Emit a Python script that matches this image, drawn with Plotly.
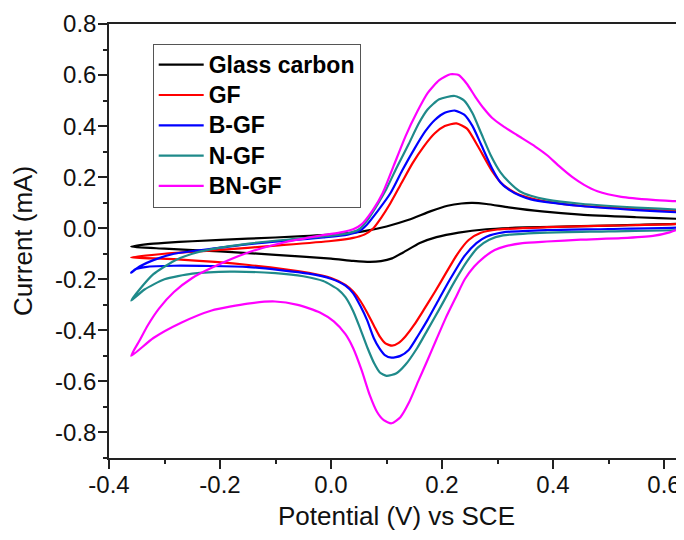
import plotly.graph_objects as go

# ---- data ----
gc_x = [-0.36, -0.33, -0.3, -0.25, -0.15, -0.05, 0.02, 0.06, 0.1, 0.14, 0.18, 0.21, 0.235, 0.255, 0.28, 0.32, 0.38, 0.45, 0.55, 0.636, 0.66,
        0.66, 0.636, 0.55, 0.45, 0.35, 0.28, 0.23, 0.19, 0.16, 0.13, 0.11, 0.09, 0.07, 0.04, 0.0, -0.1, -0.2, -0.3, -0.36]
gc_y = [-0.072, -0.062, -0.057, -0.051, -0.041, -0.031, -0.021, -0.011, 0.007, 0.033, 0.067, 0.088, 0.097, 0.099, 0.095, 0.082, 0.066, 0.053, 0.043, 0.036, 0.034,
        0.022, 0.018, 0.013, 0.008, 0.003, -0.004, -0.017, -0.035, -0.058, -0.095, -0.118, -0.129, -0.132, -0.128, -0.119, -0.104, -0.091, -0.08, -0.072]

gf_x = [-0.36, -0.3, -0.2, -0.1, 0.0, 0.04, 0.06, 0.075, 0.09, 0.107, 0.127, 0.147, 0.167, 0.187, 0.205, 0.226, 0.245, 0.265, 0.29, 0.31, 0.335, 0.36, 0.389, 0.45, 0.55, 0.636, 0.66,
        0.66, 0.636, 0.5, 0.389, 0.3, 0.27, 0.248, 0.228, 0.207, 0.187, 0.167, 0.15, 0.134, 0.122, 0.11, 0.098, 0.088, 0.078, 0.065, 0.053, 0.04, 0.026, 0.0, -0.04, -0.148, -0.283, -0.36]
gf_y = [-0.114, -0.1, -0.085, -0.068, -0.05, -0.038, -0.025, -0.003, 0.04, 0.098, 0.177, 0.255, 0.32, 0.372, 0.4, 0.411, 0.39, 0.32, 0.225, 0.17, 0.135, 0.117, 0.104, 0.088, 0.075, 0.066, 0.064,
        0.022, 0.017, 0.01, 0.004, -0.005, -0.018, -0.046, -0.1, -0.176, -0.25, -0.32, -0.378, -0.424, -0.449, -0.46, -0.451, -0.425, -0.385, -0.33, -0.285, -0.248, -0.222, -0.195, -0.175, -0.144, -0.121, -0.114]

bgf_x = [-0.36, -0.345, -0.32, -0.283, -0.2, -0.148, -0.07, -0.014, 0.03, 0.05, 0.065, 0.085, 0.107, 0.128, 0.15, 0.17, 0.187, 0.205, 0.223, 0.24, 0.255, 0.27, 0.29, 0.305, 0.321, 0.34, 0.36, 0.45, 0.55, 0.636, 0.66,
         0.66, 0.636, 0.5, 0.389, 0.31, 0.28, 0.262, 0.24, 0.214, 0.194, 0.174, 0.157, 0.14, 0.125, 0.109, 0.097, 0.087, 0.077, 0.065, 0.053, 0.04, 0.026, 0.0, -0.04, -0.148, -0.283, -0.335, -0.352, -0.36]
bgf_y = [-0.174, -0.15, -0.125, -0.1, -0.076, -0.062, -0.047, -0.036, -0.025, -0.012, 0.015, 0.07, 0.137, 0.225, 0.31, 0.38, 0.424, 0.452, 0.461, 0.445, 0.4, 0.33, 0.235, 0.18, 0.15, 0.128, 0.113, 0.087, 0.071, 0.061, 0.059,
         0.012, 0.004, -0.003, -0.007, -0.016, -0.033, -0.058, -0.11, -0.202, -0.28, -0.359, -0.42, -0.477, -0.5, -0.507, -0.497, -0.47, -0.43, -0.36, -0.305, -0.255, -0.225, -0.198, -0.178, -0.152, -0.147, -0.152, -0.16, -0.174]

ngf_x = [-0.36, -0.345, -0.32, -0.283, -0.25, -0.215, -0.148, -0.07, -0.014, 0.03, 0.05, 0.065, 0.08, 0.1, 0.12, 0.14, 0.158, 0.174, 0.195, 0.223, 0.24, 0.255, 0.27, 0.288, 0.305, 0.321, 0.34, 0.36, 0.389, 0.45, 0.55, 0.636, 0.66,
         0.66, 0.636, 0.5, 0.389, 0.31, 0.285, 0.265, 0.245, 0.221, 0.197, 0.174, 0.155, 0.134, 0.118, 0.1, 0.088, 0.078, 0.066, 0.053, 0.04, 0.026, 0.013, -0.014, -0.05, -0.1, -0.182, -0.25, -0.3, -0.336, -0.36]
ngf_y = [-0.283, -0.24, -0.18, -0.128, -0.1, -0.082, -0.06, -0.043, -0.032, -0.02, -0.005, 0.03, 0.08, 0.155, 0.245, 0.33, 0.41, 0.465, 0.505, 0.518, 0.5, 0.45, 0.375, 0.285, 0.22, 0.18, 0.145, 0.127, 0.112, 0.096, 0.081, 0.072, 0.07,
         0.008, -0.005, -0.012, -0.017, -0.028, -0.045, -0.075, -0.13, -0.215, -0.31, -0.398, -0.47, -0.535, -0.568, -0.578, -0.565, -0.53, -0.47, -0.395, -0.325, -0.27, -0.24, -0.207, -0.188, -0.176, -0.17, -0.178, -0.2, -0.24, -0.283]

bngf_x = [-0.36, -0.345, -0.33, -0.31, -0.283, -0.25, -0.215, -0.148, -0.081, -0.014, 0.02, 0.04, 0.055, 0.075, 0.093, 0.113, 0.134, 0.155, 0.174, 0.195, 0.215, 0.23, 0.245, 0.26, 0.275, 0.29, 0.31, 0.335, 0.368, 0.39, 0.41, 0.435, 0.456, 0.48, 0.523, 0.58, 0.636, 0.66,
          0.66, 0.645, 0.63, 0.61, 0.58, 0.523, 0.45, 0.389, 0.345, 0.315, 0.295, 0.275, 0.258, 0.241, 0.225, 0.207, 0.19, 0.174, 0.157, 0.14, 0.125, 0.109, 0.095, 0.083, 0.07, 0.055, 0.04, 0.026, 0.005, -0.02, -0.06, -0.101, -0.15, -0.215, -0.27, -0.32, -0.36]
bngf_y = [-0.5, -0.44, -0.38, -0.315, -0.25, -0.195, -0.155, -0.094, -0.054, -0.027, -0.015, -0.004, 0.015, 0.07, 0.137, 0.245, 0.359, 0.455, 0.529, 0.58, 0.603, 0.6, 0.565, 0.515, 0.47, 0.433, 0.4, 0.365, 0.32, 0.285, 0.245, 0.2, 0.17, 0.145, 0.123, 0.111, 0.104, 0.1,
          0.04, 0.018, 0.0, -0.016, -0.03, -0.039, -0.045, -0.052, -0.058, -0.07, -0.085, -0.115, -0.15, -0.2, -0.27, -0.35, -0.435, -0.516, -0.6, -0.685, -0.74, -0.764, -0.752, -0.72, -0.655, -0.555, -0.47, -0.415, -0.365, -0.33, -0.3, -0.287, -0.295, -0.322, -0.37, -0.43, -0.5]

series_names = ["Glass carbon", "GF", "B-GF", "N-GF", "BN-GF"]
series_x = [gc_x, gf_x, bgf_x, ngf_x, bngf_x]
series_y = [gc_y, gf_y, bgf_y, ngf_y, bngf_y]
series_colors = ["#000000", "#FF0000", "#0000FF", "#1F8A8A", "#FF00FF"]

x_tickvals = [-0.4, -0.2, 0.0, 0.2, 0.4, 0.6]
x_ticktext = ["-0.4", "-0.2", "0.0", "0.2", "0.4", "0.6"]
y_tickvals = [-0.8, -0.6, -0.4, -0.2, 0.0, 0.2, 0.4, 0.6, 0.8]
y_ticktext = ["-0.8", "-0.6", "-0.4", "-0.2", "0.0", "0.2", "0.4", "0.6", "0.8"]

FONT = "Liberation Sans"

fig = go.Figure()
for name, xs, ys, c in zip(series_names, series_x, series_y, series_colors):
    fig.add_trace(go.Scatter(x=xs, y=ys, mode="lines",
                             name='<span style="font-size:23px">' + name + '</span>',
                             line=dict(color=c, width=2.2, shape="spline", smoothing=0.6)))

axis_common = dict(showgrid=False, zeroline=False, showline=True, linecolor="#222222", linewidth=1.5,
                   ticks="outside", ticklen=9, tickwidth=1.5, tickcolor="#222222",
                   tickfont=dict(family=FONT, size=24, color="#111111"),
                   minor=dict(ticks="outside", ticklen=4, tickwidth=1.5, tickcolor="#222222", dtick=0.1, showgrid=False),
                   mirror=True, automargin=False)

# the page body adds an 8 px offset; figure sized so that it ends at the window edge
fig.update_layout(
    width=676, height=532,
    margin=dict(l=101, r=0, t=16, b=82),
    paper_bgcolor="white", plot_bgcolor="white",
    showlegend=True,
    legend=dict(x=0.076, y=0.955, xanchor="left", yanchor="top",
                bgcolor="white", bordercolor="#555555", borderwidth=1,
                font=dict(family=FONT, size=21, color="#000000", weight="bold"),
                itemwidth=45, tracegroupgap=0),
    xaxis=dict(range=[-0.4, 0.636], tickvals=x_tickvals, ticktext=x_ticktext, ticklabelstandoff=-5,
               title=dict(text="Potential (V) vs SCE", font=dict(family=FONT, size=26, color="#111111"), standoff=10),
               **axis_common),
    yaxis=dict(range=[-0.9, 0.8], tickvals=y_tickvals, ticktext=y_ticktext, ticklabelstandoff=-3,
               title=dict(text="Current (mA)", font=dict(family=FONT, size=26, color="#111111"), standoff=18),
               **axis_common),
)

fig.write_html("out.html")
